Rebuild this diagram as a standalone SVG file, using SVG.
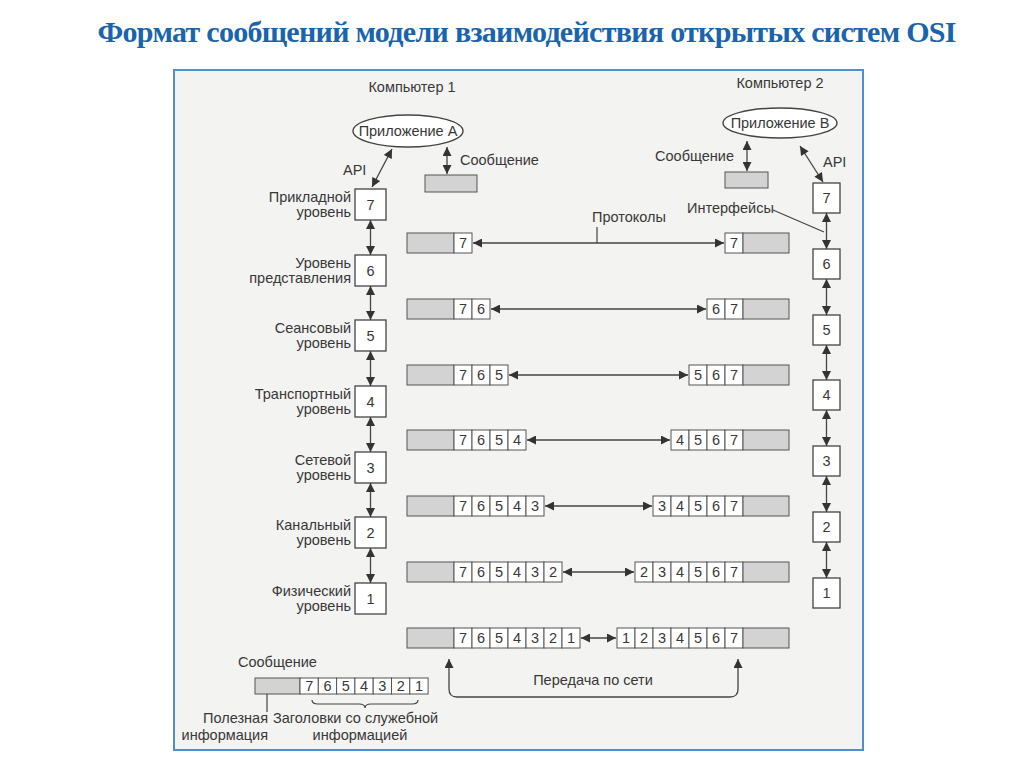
<svg xmlns="http://www.w3.org/2000/svg" width="1024" height="767" viewBox="0 0 1024 767">
<style>
.t{font-family:"Liberation Sans",Arial,sans-serif;font-size:14.5px;fill:#383838}
.r{text-anchor:end}
.m{text-anchor:middle}
.num{font-family:"Liberation Sans",Arial,sans-serif;font-size:14.5px;fill:#383838;text-anchor:middle}
.box{fill:#fff;stroke:#444;stroke-width:1.3}
.cell{fill:#fff;stroke:#555;stroke-width:1}
.gray{fill:#d3d3d3;stroke:#555;stroke-width:1}
.ln{stroke:#444;stroke-width:1.2;fill:none}
.arr{stroke:#444;stroke-width:1.3;fill:none;marker-start:url(#ah);marker-end:url(#ah)}
</style>
<defs>
<marker id="ah" viewBox="0 0 10 10" refX="10" refY="5" markerWidth="10" markerHeight="9" markerUnits="userSpaceOnUse" orient="auto-start-reverse"><path d="M0,0 L10,5 L0,10 z" fill="#333"/></marker>
</defs>
<rect width="1024" height="767" fill="#fff"/>
<text x="527" y="42" text-anchor="middle" textLength="859" font-family="'Liberation Serif','Times New Roman',serif" font-weight="bold" font-size="30" fill="#1a63ad">Формат сообщений модели взаимодействия открытых систем OSI</text>
<rect x="174" y="70" width="689" height="680" fill="#f3f3f2" stroke="#4f8fcf" stroke-width="2"/>

<g id="computer1">
<text class="t m" x="412" y="92">Компьютер 1</text>
<ellipse cx="408" cy="131" rx="55" ry="16" fill="#fff" stroke="#444" stroke-width="1.4"/>
<text class="t m" x="408" y="136">Приложение A</text>
<text class="t" x="343" y="175">API</text>
<text class="t" x="460" y="165">Сообщение</text>
<rect class="gray" x="425" y="175" width="52" height="17"/>
</g>
<g id="computer2">
<text class="t m" x="780" y="88">Компьютер 2</text>
<ellipse cx="780" cy="123" rx="57" ry="15" fill="#fff" stroke="#444" stroke-width="1.4"/>
<text class="t m" x="780" y="128">Приложение B</text>
<text class="t" x="823" y="167">API</text>
<text class="t r" x="734" y="161">Сообщение</text>
<rect class="gray" x="725" y="172" width="43" height="16"/>
<text class="t" x="687" y="213">Интерфейсы</text>
</g>

<g id="left-stack">
<g id="L7"><rect class="box" x="355" y="189" width="31" height="31"/><text class="num" x="370.5" y="210">7</text><text class="t r" x="351" y="202">Прикладной</text><text class="t r" x="351" y="217">уровень</text></g>
<g id="L6"><rect class="box" x="355" y="255" width="31" height="31"/><text class="num" x="370.5" y="276">6</text><text class="t r" x="351" y="268">Уровень</text><text class="t r" x="351" y="283">представления</text></g>
<g id="L5"><rect class="box" x="355" y="320" width="31" height="31"/><text class="num" x="370.5" y="341">5</text><text class="t r" x="351" y="333">Сеансовый</text><text class="t r" x="351" y="348">уровень</text></g>
<g id="L4"><rect class="box" x="355" y="386" width="31" height="31"/><text class="num" x="370.5" y="407">4</text><text class="t r" x="351" y="399">Транспортный</text><text class="t r" x="351" y="414">уровень</text></g>
<g id="L3"><rect class="box" x="355" y="452" width="31" height="31"/><text class="num" x="370.5" y="473">3</text><text class="t r" x="351" y="465">Сетевой</text><text class="t r" x="351" y="480">уровень</text></g>
<g id="L2"><rect class="box" x="355" y="517" width="31" height="31"/><text class="num" x="370.5" y="538">2</text><text class="t r" x="351" y="530">Канальный</text><text class="t r" x="351" y="545">уровень</text></g>
<g id="L1"><rect class="box" x="355" y="583" width="31" height="31"/><text class="num" x="370.5" y="604">1</text><text class="t r" x="351" y="596">Физический</text><text class="t r" x="351" y="611">уровень</text></g>
</g>

<g id="right-stack">
<g id="R7"><rect class="box" x="813" y="183" width="27" height="30"/><text class="num" x="826.5" y="203">7</text></g>
<g id="R6"><rect class="box" x="813" y="249" width="27" height="30"/><text class="num" x="826.5" y="269">6</text></g>
<g id="R5"><rect class="box" x="813" y="315" width="27" height="30"/><text class="num" x="826.5" y="335">5</text></g>
<g id="R4"><rect class="box" x="813" y="380" width="27" height="30"/><text class="num" x="826.5" y="400">4</text></g>
<g id="R3"><rect class="box" x="813" y="446" width="27" height="30"/><text class="num" x="826.5" y="466">3</text></g>
<g id="R2"><rect class="box" x="813" y="512" width="27" height="30"/><text class="num" x="826.5" y="532">2</text></g>
<g id="R1"><rect class="box" x="813" y="578" width="27" height="30"/><text class="num" x="826.5" y="598">1</text></g>
</g>

<g id="row7">
<rect class="gray" x="407" y="233" width="47" height="20"/>
<rect class="cell" x="454" y="233" width="18" height="20"/><text class="num" x="463" y="248">7</text>
<rect class="cell" x="725" y="233" width="18" height="20"/><text class="num" x="734" y="248">7</text>
<rect class="gray" x="743" y="233" width="46" height="20"/>
<text class="t" x="592" y="222">Протоколы</text>
</g>
<g id="row6">
<rect class="gray" x="407" y="299" width="47" height="20"/>
<rect class="cell" x="454" y="299" width="18" height="20"/><text class="num" x="463" y="314">7</text>
<rect class="cell" x="472" y="299" width="18" height="20"/><text class="num" x="481" y="314">6</text>
<rect class="cell" x="707" y="299" width="18" height="20"/><text class="num" x="716" y="314">6</text>
<rect class="cell" x="725" y="299" width="18" height="20"/><text class="num" x="734" y="314">7</text>
<rect class="gray" x="743" y="299" width="46" height="20"/>
</g>
<g id="row5">
<rect class="gray" x="407" y="365" width="47" height="20"/>
<rect class="cell" x="454" y="365" width="18" height="20"/><text class="num" x="463" y="380">7</text>
<rect class="cell" x="472" y="365" width="18" height="20"/><text class="num" x="481" y="380">6</text>
<rect class="cell" x="490" y="365" width="18" height="20"/><text class="num" x="499" y="380">5</text>
<rect class="cell" x="689" y="365" width="18" height="20"/><text class="num" x="698" y="380">5</text>
<rect class="cell" x="707" y="365" width="18" height="20"/><text class="num" x="716" y="380">6</text>
<rect class="cell" x="725" y="365" width="18" height="20"/><text class="num" x="734" y="380">7</text>
<rect class="gray" x="743" y="365" width="46" height="20"/>
</g>
<g id="row4">
<rect class="gray" x="407" y="430" width="47" height="20"/>
<rect class="cell" x="454" y="430" width="18" height="20"/><text class="num" x="463" y="445">7</text>
<rect class="cell" x="472" y="430" width="18" height="20"/><text class="num" x="481" y="445">6</text>
<rect class="cell" x="490" y="430" width="18" height="20"/><text class="num" x="499" y="445">5</text>
<rect class="cell" x="508" y="430" width="18" height="20"/><text class="num" x="517" y="445">4</text>
<rect class="cell" x="671" y="430" width="18" height="20"/><text class="num" x="680" y="445">4</text>
<rect class="cell" x="689" y="430" width="18" height="20"/><text class="num" x="698" y="445">5</text>
<rect class="cell" x="707" y="430" width="18" height="20"/><text class="num" x="716" y="445">6</text>
<rect class="cell" x="725" y="430" width="18" height="20"/><text class="num" x="734" y="445">7</text>
<rect class="gray" x="743" y="430" width="46" height="20"/>
</g>
<g id="row3">
<rect class="gray" x="407" y="496" width="47" height="20"/>
<rect class="cell" x="454" y="496" width="18" height="20"/><text class="num" x="463" y="511">7</text>
<rect class="cell" x="472" y="496" width="18" height="20"/><text class="num" x="481" y="511">6</text>
<rect class="cell" x="490" y="496" width="18" height="20"/><text class="num" x="499" y="511">5</text>
<rect class="cell" x="508" y="496" width="18" height="20"/><text class="num" x="517" y="511">4</text>
<rect class="cell" x="526" y="496" width="18" height="20"/><text class="num" x="535" y="511">3</text>
<rect class="cell" x="653" y="496" width="18" height="20"/><text class="num" x="662" y="511">3</text>
<rect class="cell" x="671" y="496" width="18" height="20"/><text class="num" x="680" y="511">4</text>
<rect class="cell" x="689" y="496" width="18" height="20"/><text class="num" x="698" y="511">5</text>
<rect class="cell" x="707" y="496" width="18" height="20"/><text class="num" x="716" y="511">6</text>
<rect class="cell" x="725" y="496" width="18" height="20"/><text class="num" x="734" y="511">7</text>
<rect class="gray" x="743" y="496" width="46" height="20"/>
</g>
<g id="row2">
<rect class="gray" x="407" y="562" width="47" height="20"/>
<rect class="cell" x="454" y="562" width="18" height="20"/><text class="num" x="463" y="577">7</text>
<rect class="cell" x="472" y="562" width="18" height="20"/><text class="num" x="481" y="577">6</text>
<rect class="cell" x="490" y="562" width="18" height="20"/><text class="num" x="499" y="577">5</text>
<rect class="cell" x="508" y="562" width="18" height="20"/><text class="num" x="517" y="577">4</text>
<rect class="cell" x="526" y="562" width="18" height="20"/><text class="num" x="535" y="577">3</text>
<rect class="cell" x="544" y="562" width="18" height="20"/><text class="num" x="553" y="577">2</text>
<rect class="cell" x="635" y="562" width="18" height="20"/><text class="num" x="644" y="577">2</text>
<rect class="cell" x="653" y="562" width="18" height="20"/><text class="num" x="662" y="577">3</text>
<rect class="cell" x="671" y="562" width="18" height="20"/><text class="num" x="680" y="577">4</text>
<rect class="cell" x="689" y="562" width="18" height="20"/><text class="num" x="698" y="577">5</text>
<rect class="cell" x="707" y="562" width="18" height="20"/><text class="num" x="716" y="577">6</text>
<rect class="cell" x="725" y="562" width="18" height="20"/><text class="num" x="734" y="577">7</text>
<rect class="gray" x="743" y="562" width="46" height="20"/>
</g>
<g id="row1">
<rect class="gray" x="407" y="628" width="47" height="20"/>
<rect class="cell" x="454" y="628" width="18" height="20"/><text class="num" x="463" y="643">7</text>
<rect class="cell" x="472" y="628" width="18" height="20"/><text class="num" x="481" y="643">6</text>
<rect class="cell" x="490" y="628" width="18" height="20"/><text class="num" x="499" y="643">5</text>
<rect class="cell" x="508" y="628" width="18" height="20"/><text class="num" x="517" y="643">4</text>
<rect class="cell" x="526" y="628" width="18" height="20"/><text class="num" x="535" y="643">3</text>
<rect class="cell" x="544" y="628" width="18" height="20"/><text class="num" x="553" y="643">2</text>
<rect class="cell" x="562" y="628" width="18" height="20"/><text class="num" x="571" y="643">1</text>
<rect class="cell" x="617" y="628" width="18" height="20"/><text class="num" x="626" y="643">1</text>
<rect class="cell" x="635" y="628" width="18" height="20"/><text class="num" x="644" y="643">2</text>
<rect class="cell" x="653" y="628" width="18" height="20"/><text class="num" x="662" y="643">3</text>
<rect class="cell" x="671" y="628" width="18" height="20"/><text class="num" x="680" y="643">4</text>
<rect class="cell" x="689" y="628" width="18" height="20"/><text class="num" x="698" y="643">5</text>
<rect class="cell" x="707" y="628" width="18" height="20"/><text class="num" x="716" y="643">6</text>
<rect class="cell" x="725" y="628" width="18" height="20"/><text class="num" x="734" y="643">7</text>
<rect class="gray" x="743" y="628" width="46" height="20"/>
<text class="t m" x="593" y="685">Передача по сети</text>
</g>

<g id="legend">
<text class="t" x="238" y="667">Сообщение</text>
<rect class="gray" x="255" y="678" width="45" height="16"/>
<rect class="cell" x="300" y="678" width="18.3" height="16"/><text class="num" x="309.2" y="691" font-size="13.5">7</text>
<rect class="cell" x="318.3" y="678" width="18.3" height="16"/><text class="num" x="327.5" y="691" font-size="13.5">6</text>
<rect class="cell" x="336.6" y="678" width="18.3" height="16"/><text class="num" x="345.8" y="691" font-size="13.5">5</text>
<rect class="cell" x="354.9" y="678" width="18.3" height="16"/><text class="num" x="364.1" y="691" font-size="13.5">4</text>
<rect class="cell" x="373.2" y="678" width="18.3" height="16"/><text class="num" x="382.4" y="691" font-size="13.5">3</text>
<rect class="cell" x="391.5" y="678" width="18.3" height="16"/><text class="num" x="400.7" y="691" font-size="13.5">2</text>
<rect class="cell" x="409.8" y="678" width="18.3" height="16"/><text class="num" x="419" y="691" font-size="13.5">1</text>
<path class="ln" d="M267,694 L267,712"/>
<path class="ln" d="M312,700 Q312,704 318,704 L359,704 Q365,704 365,708 Q365,704 371,704 L412,704 Q418,704 418,700" stroke-width="1"/>
<text class="t r" x="268" y="723">Полезная</text>
<text class="t r" x="268" y="740">информация</text>
<text class="t" x="273" y="723">Заголовки со служебной</text>
<text class="t m" x="360" y="740">информацией</text>
</g>

<g id="connectors">
<path class="arr" d="M392,149 L372,187"/>
<path class="arr" d="M447,147 L447,174"/>
<path class="arr" d="M800,146 L823,182"/>
<path class="arr" d="M747,141 L747,171"/>
<path class="ln" d="M773,210 L824,232" stroke-width="1"/>
<path class="arr" d="M370.5,220 L370.5,255"/>
<path class="arr" d="M370.5,286 L370.5,320"/>
<path class="arr" d="M370.5,351 L370.5,386"/>
<path class="arr" d="M370.5,417 L370.5,452"/>
<path class="arr" d="M370.5,483 L370.5,517"/>
<path class="arr" d="M370.5,548 L370.5,583"/>
<path class="arr" d="M826.5,213 L826.5,249"/>
<path class="arr" d="M826.5,279 L826.5,315"/>
<path class="arr" d="M826.5,345 L826.5,380"/>
<path class="arr" d="M826.5,410 L826.5,446"/>
<path class="arr" d="M826.5,476 L826.5,512"/>
<path class="arr" d="M826.5,542 L826.5,578"/>
<path class="arr" d="M473,243 L724,243"/>
<path class="ln" d="M597,227 L597,243" stroke-width="1"/>
<path class="arr" d="M491,309 L706,309"/>
<path class="arr" d="M509,375 L688,375"/>
<path class="arr" d="M527,440 L670,440"/>
<path class="arr" d="M545,506 L652,506"/>
<path class="arr" d="M563,572 L634,572"/>
<path class="arr" d="M581,638 L616,638"/>
<path class="arr" d="M449,659 L449,689 Q449,697 457,697 L730,697 Q738,697 738,689 L738,659"/>
</g>
</svg>
